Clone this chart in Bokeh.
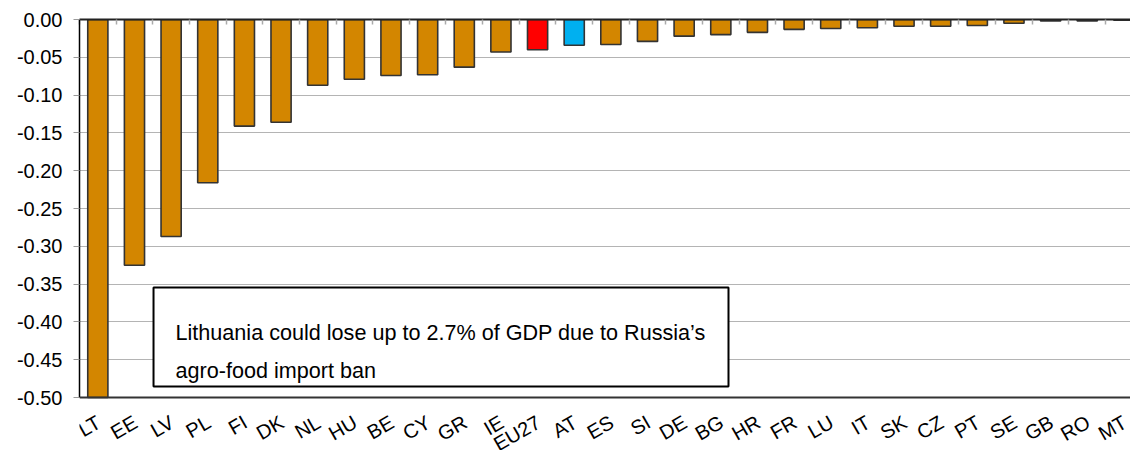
from bokeh.plotting import figure
from bokeh.models import (Range1d, FixedTicker, LinearAxis, NumeralTickFormatter, BoxAnnotation, Label,
                          LabelSet, ColumnDataSource, Span)
from bokeh.core.properties import value
from bokeh.embed import file_html
from bokeh.resources import INLINE
import math

countries = ["LT", "EE", "LV", "PL", "FI", "DK", "NL", "HU", "BE", "CY", "GR", "IE", "EU27",
             "AT", "ES", "SI", "DE", "BG", "HR", "FR", "LU", "IT", "SK", "CZ", "PT", "SE", "GB", "RO", "MT"]
impact = [-0.52, -0.325, -0.287, -0.216, -0.141, -0.136, -0.087, -0.079, -0.074, -0.073, -0.063, -0.043, -0.040,
          -0.034, -0.033, -0.029, -0.022, -0.020, -0.017, -0.013, -0.012, -0.011, -0.009, -0.009, -0.008, -0.005,
          -0.002, -0.002, -0.001]
y_ticks = [0.0, -0.05, -0.10, -0.15, -0.20, -0.25, -0.30, -0.35, -0.40, -0.45, -0.50]
note_lines = ["Lithuania could lose up to 2.7% of GDP due to Russia\u2019s", "agro-food import ban"]

ORANGE = "#D38600"
highlight = {"EU27": "#FF0000", "AT": "#00B0F0"}
FONT = "Liberation Sans"

y_min = min(y_ticks)
xs = [i + 0.5 for i in range(len(countries))]
colors = [highlight.get(c, ORANGE) for c in countries]
shown = [max(v, y_min) for v in impact]          # bars are cut at the axis minimum
src = ColumnDataSource(dict(x=xs, val=shown, color=colors, name=countries,
                            base=[y_min] * len(countries)))

# the frame runs to the bottom of the canvas so that the rotated labels are not clipped
p = figure(width=1130, height=450, output_backend="svg", toolbar_location=None,
           x_range=Range1d(0, len(countries) - 0.32), y_range=Range1d(y_min - 0.0701, 0.0),
           min_border_left=79, min_border_top=19, min_border_right=0, min_border_bottom=0,
           x_axis_location=None, y_axis_location="left")
p.outline_line_color = None
p.background_fill_color = "white"
p.border_fill_color = "white"

p.ygrid.ticker = FixedTicker(ticks=y_ticks)
p.ygrid.grid_line_color = "#b4b4b4"
p.ygrid.grid_line_width = 1
p.xgrid.grid_line_color = None

p.vbar(x="x", top=0, bottom="val", width=0.55, fill_color="color", line_color="#333333",
       line_width=1.6, source=src)

# y axis
ya = p.yaxis[0]
ya.bounds = (y_min, 0.0)
ya.ticker = FixedTicker(ticks=y_ticks)
ya.formatter = NumeralTickFormatter(format="0.00")
ya.axis_line_color = "black"
ya.axis_line_width = 1.5
ya.major_tick_out = 6
ya.major_tick_in = 0
ya.major_tick_line_color = "#999999"
ya.minor_tick_line_color = None
ya.major_label_text_font = FONT
ya.major_label_text_font_size = "20px"
ya.major_label_text_color = "black"
ya.major_label_standoff = 11

# bottom line at -0.50
p.add_layout(Span(location=y_min, dimension="width", line_color="#333333", line_width=2))

# rotated category labels under the bottom line
p.add_layout(LabelSet(x="x", y="base", text="name", source=src, angle=math.pi / 6,
                      x_offset=1, y_offset=-23, text_align="right", text_baseline="middle",
                      text_font=value(FONT), text_font_size=value("20px"), text_color="black"))

# zero line with category boundary ticks
xt = LinearAxis(ticker=FixedTicker(ticks=list(range(len(countries) + 1))))
xt.axis_line_color = "#222222"
xt.axis_line_width = 2
xt.major_tick_in = 5
xt.major_tick_out = 0
xt.major_tick_line_color = "#aaaaaa"
xt.major_tick_line_width = 1.5
xt.minor_tick_line_color = None
xt.major_label_text_font_size = "0px"
xt.major_label_text_alpha = 0
p.add_layout(xt, "above")

box = BoxAnnotation(left=2.02, right=17.71, top=-0.3545, bottom=-0.4854,
                    fill_color="white", fill_alpha=1.0, line_color="black", line_alpha=1.0,
                    line_width=2)
p.add_layout(box)
for txt, yy in zip(note_lines, [-0.4144, -0.4643]):
    p.add_layout(Label(x=2.62, y=yy, text=txt, text_font=FONT, text_font_size="21.6px",
                       text_color="black", text_baseline="alphabetic"))

open("out.html", "w").write(file_html(p, INLINE))
